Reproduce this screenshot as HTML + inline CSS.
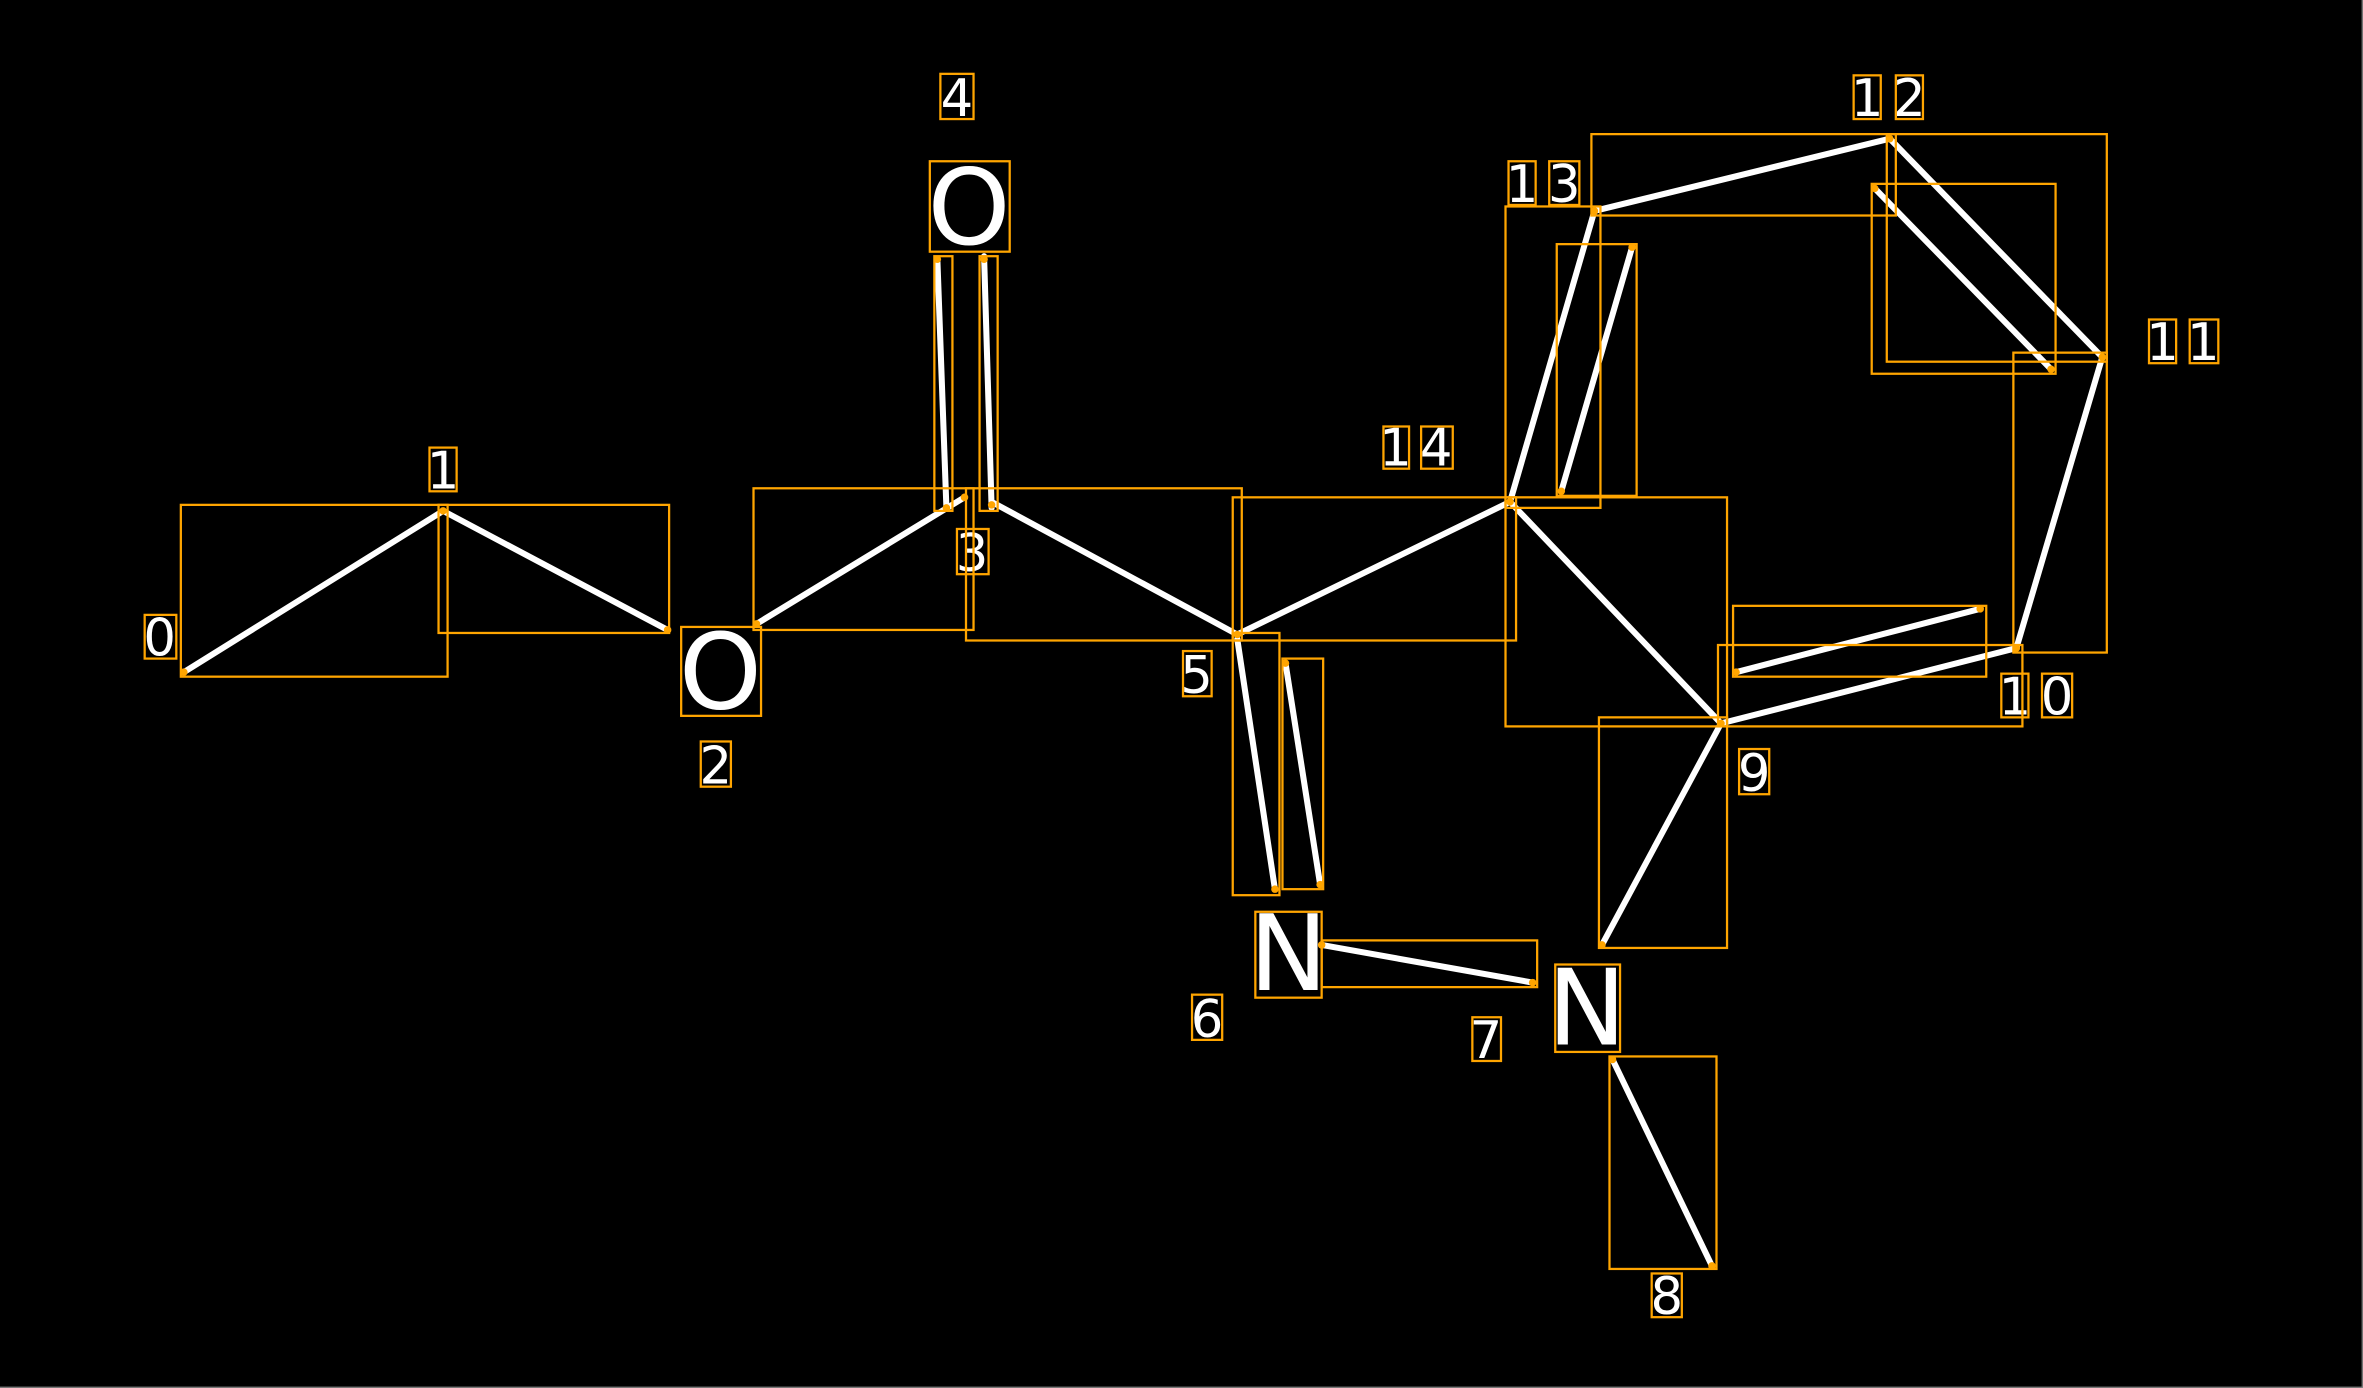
<!DOCTYPE html>
<html><head><meta charset="utf-8"><style>
html,body{margin:0;padding:0;background:#000;}
svg{display:block;}
</style></head><body>
<svg width="2363" height="1388" viewBox="0 0 1568 921" preserveAspectRatio="none" xmlns="http://www.w3.org/2000/svg">
<rect width="1568" height="921" fill="#000"/>
<line x1="1567.5" y1="0" x2="1567.5" y2="921" stroke="#888" stroke-width="0.8"/>
<line x1="0" y1="920.5" x2="1568" y2="920.5" stroke="#888" stroke-width="0.8"/>
<g stroke="#fff" stroke-width="4" stroke-linecap="round">
<line x1="122" y1="446" x2="294" y2="339"/>
<line x1="294" y1="339" x2="443" y2="418"/>
<line x1="502" y1="414" x2="640" y2="330"/>
<line x1="622" y1="172" x2="628" y2="337"/>
<line x1="653" y1="170" x2="658" y2="337"/>
<line x1="658" y1="333" x2="821" y2="421"/>
<line x1="821" y1="424" x2="846" y2="590"/>
<line x1="853" y1="440" x2="876" y2="587"/>
<line x1="877" y1="627" x2="1017" y2="652"/>
<line x1="1070" y1="703" x2="1136" y2="840"/>
<line x1="821" y1="421" x2="1002" y2="333"/>
<line x1="1002" y1="333" x2="1142" y2="480"/>
<line x1="1142" y1="480" x2="1063" y2="627"/>
<line x1="1142" y1="480" x2="1338" y2="430"/>
<line x1="1152" y1="446" x2="1314" y2="404"/>
<line x1="1338" y1="430" x2="1395" y2="237"/>
<line x1="1254" y1="92" x2="1395" y2="237"/>
<line x1="1244" y1="125" x2="1361" y2="245"/>
<line x1="1058" y1="140" x2="1254" y2="92"/>
<line x1="1058" y1="140" x2="1002" y2="333"/>
<line x1="1083" y1="164" x2="1036" y2="326"/>
</g>
<g fill="#fff" font-family="DejaVu Sans, Liberation Sans, sans-serif">
<text x="478" y="470" font-size="70" text-anchor="middle">O</text>
<text x="643" y="162" font-size="70" text-anchor="middle">O</text>
<text x="855" y="657" font-size="70" text-anchor="middle">N</text>
<text x="1053" y="693" font-size="70" text-anchor="middle">N</text>
<g font-size="34" text-anchor="middle">
<text x="106" y="435">0</text>
<text x="294" y="324">1</text>
<text x="475" y="520">2</text>
<text x="645" y="379">3</text>
<text x="635" y="77">4</text>
<text x="794" y="460">5</text>
<text x="801" y="688">6</text>
<text x="986" y="702">7</text>
<text x="1106" y="872">8</text>
<text x="1164" y="525">9</text>
<text x="1337" y="474">1</text><text x="1365" y="474">0</text>
<text x="1435" y="239">1</text><text x="1462" y="239">1</text>
<text x="1239" y="77">1</text><text x="1267" y="77">2</text>
<text x="1010" y="134">1</text><text x="1038" y="134">3</text>
<text x="926" y="309">1</text><text x="953" y="309">4</text>
</g>
</g>
<g fill="none" stroke="#FFA500" stroke-width="1.5">
<rect x="120" y="335" width="177" height="114"/>
<rect x="291" y="335" width="153" height="85"/>
<rect x="500" y="324" width="146" height="94"/>
<rect x="620" y="170" width="12" height="169"/>
<rect x="650" y="170" width="12" height="169"/>
<rect x="641" y="324" width="183" height="101"/>
<rect x="818" y="420" width="31" height="174"/>
<rect x="851" y="437" width="27" height="153"/>
<rect x="877" y="624" width="143" height="31"/>
<rect x="1068" y="701" width="71" height="141"/>
<rect x="818" y="330" width="188" height="95"/>
<rect x="999" y="330" width="147" height="152"/>
<rect x="1061" y="476" width="85" height="153"/>
<rect x="1140" y="428" width="202" height="54"/>
<rect x="1150" y="402" width="168" height="47"/>
<rect x="1336" y="234" width="62" height="199"/>
<rect x="1252" y="89" width="146" height="151"/>
<rect x="1242" y="122" width="122" height="126"/>
<rect x="1056" y="89" width="202" height="54"/>
<rect x="999" y="137" width="63" height="200"/>
<rect x="1033" y="162" width="53" height="167"/>
<rect x="452" y="416" width="53" height="59"/>
<rect x="617" y="107" width="53" height="60"/>
<rect x="833" y="605" width="44" height="57"/>
<rect x="1032" y="640" width="43" height="58"/>
<rect x="96" y="408" width="21" height="29"/>
<rect x="285" y="297" width="18" height="29"/>
<rect x="465" y="492" width="20" height="30"/>
<rect x="635" y="351" width="21" height="30"/>
<rect x="624" y="49" width="22" height="30"/>
<rect x="785" y="432" width="19" height="30"/>
<rect x="791" y="660" width="20" height="30"/>
<rect x="977" y="675" width="19" height="29"/>
<rect x="1096" y="845" width="20" height="29"/>
<rect x="1154" y="497" width="20" height="30"/>
<rect x="1328" y="447" width="18" height="29"/>
<rect x="1355" y="447" width="20" height="29"/>
<rect x="1426" y="212" width="18" height="29"/>
<rect x="1453" y="212" width="19" height="29"/>
<rect x="1230" y="50" width="18" height="29"/>
<rect x="1258" y="50" width="18" height="29"/>
<rect x="1001" y="107" width="18" height="29"/>
<rect x="1028" y="107" width="20" height="29"/>
<rect x="918" y="283" width="17" height="28"/>
<rect x="943" y="283" width="21" height="28"/>
</g>
<g fill="#FFA500">
<circle cx="122" cy="446" r="2.5"/><circle cx="294" cy="339" r="2.5"/><circle cx="443" cy="418" r="2.5"/>
<circle cx="502" cy="414" r="2.5"/><circle cx="640" cy="330" r="2.5"/><circle cx="658" cy="335" r="2.5"/>
<circle cx="628" cy="337" r="2.5"/><circle cx="622" cy="172" r="2.5"/><circle cx="653" cy="172" r="2.5"/>
<circle cx="821" cy="421" r="2.5"/><circle cx="846" cy="590" r="2.5"/><circle cx="853" cy="440" r="2.5"/><circle cx="876" cy="587" r="2.5"/>
<circle cx="877" cy="627" r="2.5"/><circle cx="1017" cy="652" r="2.5"/><circle cx="1070" cy="703" r="2.5"/><circle cx="1136" cy="840" r="2.5"/>
<circle cx="1002" cy="333" r="2.5"/><circle cx="1142" cy="480" r="2.5"/><circle cx="1063" cy="627" r="2.5"/>
<circle cx="1338" cy="430" r="2.5"/><circle cx="1152" cy="446" r="2.5"/><circle cx="1314" cy="404" r="2.5"/>
<circle cx="1395" cy="237" r="2.5"/><circle cx="1254" cy="92" r="2.5"/><circle cx="1244" cy="125" r="2.5"/><circle cx="1361" cy="245" r="2.5"/>
<circle cx="1058" cy="140" r="2.5"/><circle cx="1083" cy="164" r="2.5"/><circle cx="1036" cy="326" r="2.5"/>
</g>
</svg>
</body></html>
